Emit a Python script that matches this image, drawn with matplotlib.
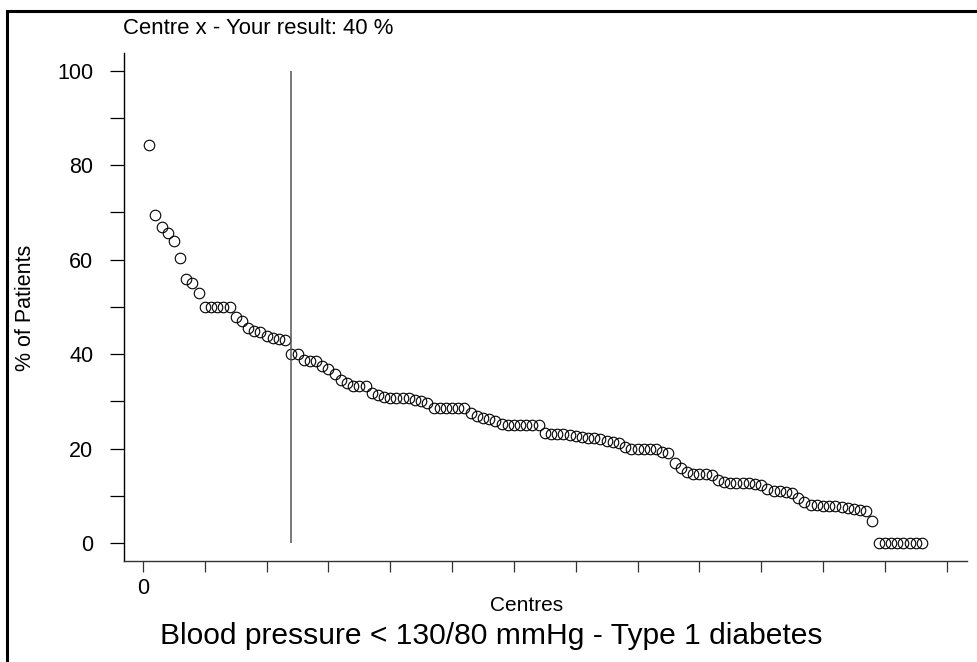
import numpy as np
import matplotlib.pyplot as plt
from matplotlib.patches import Rectangle

plt.rcParams['font.family'] = ['Liberation Sans', 'DejaVu Sans']

# percentage of patients per centre, sorted descending
pct = [
    84.3, 69.5, 67.0, 65.6, 64.0, 60.3, 56.0, 55.0, 53.0, 50.0,
    50.0, 50.0, 50.0, 50.0, 47.8, 47.1, 45.5, 44.8, 44.6, 43.8,
    43.4, 43.1, 43.0, 40.0, 40.0, 38.7, 38.5, 38.5, 37.5, 36.8,
    35.7, 34.5, 33.8, 33.3, 33.3, 33.3, 31.8, 31.3, 31.0, 30.8,
    30.8, 30.8, 30.6, 30.3, 30.0, 29.6, 28.6, 28.6, 28.6, 28.6,
    28.6, 28.6, 27.5, 26.9, 26.5, 26.3, 25.9, 25.3, 25.0, 25.0,
    25.0, 25.0, 25.0, 25.0, 23.3, 23.1, 23.0, 23.0, 22.9, 22.7,
    22.5, 22.2, 22.2, 22.0, 21.7, 21.4, 21.2, 20.4, 20.0, 20.0,
    20.0, 20.0, 20.0, 19.3, 19.0, 16.9, 15.9, 15.0, 14.6, 14.6,
    14.6, 14.4, 13.3, 13.0, 12.8, 12.8, 12.8, 12.8, 12.5, 12.3,
    11.5, 11.1, 11.1, 10.7, 10.5, 9.5, 8.7, 8.0, 8.0, 7.9,
    7.9, 7.8, 7.7, 7.5, 7.3, 7.0, 6.8, 4.7, 0.0, 0.0,
    0.0, 0.0, 0.0, 0.0, 0.0, 0.0,
]
centre_rank = np.arange(1, len(pct) + 1)
your_rank = 24
your_result = 40

title_top = f"Centre x - Your result: {your_result} %"
title_bottom = "Blood pressure < 130/80 mmHg - Type 1 diabetes"

fig = plt.figure(figsize=(9.78, 6.62), dpi=100)
ax = fig.add_axes([0.1268, 0.1526, 0.862, 0.7674])

ax.plot(centre_rank, pct, linestyle="none", marker="o", markersize=7.6,
        markerfacecolor="none", markeredgecolor="black", markeredgewidth=0.8)
ax.vlines(your_rank, 0, 100, color="#555555", lw=1.1)

ax.set_xlim(-3.07, 133.3)
ax.set_ylim(-3.8, 103.75)

ax.set_xticks(np.arange(0, 131, 10))
ax.set_xticklabels(["0"] + [""] * 13)
ax.set_yticks(np.arange(0, 101, 10))
ax.set_yticklabels([str(v) if v % 20 == 0 else "" for v in range(0, 101, 10)])

ax.spines["top"].set_visible(False)
ax.spines["right"].set_visible(False)
ax.spines["left"].set_linewidth(1.0)
ax.spines["bottom"].set_linewidth(1.0)
ax.spines["bottom"].set_color("#333333")
ax.tick_params(axis="y", direction="out", length=10, width=0.9, pad=12, labelsize=15.5)
ax.tick_params(axis="x", direction="out", length=8, width=0.9, pad=4, labelsize=15.5,
               color="#333333")

ax.set_ylabel("% of Patients", fontsize=15.5)
ax.set_xlabel("Centres", fontsize=15)
ax.xaxis.set_label_coords(0.478, -0.068)
ax.yaxis.set_label_coords(-0.104, 0.498)

fig.text(0.126, 0.957, title_top, fontsize=15.9, ha="left", va="center")
fig.text(0.164, 0.04, title_bottom, fontsize=21.6, ha="left", va="center")

# outer frame (only top and left edges fall inside the picture)
fig.patches.append(Rectangle((7 / 978, -0.1), 1.2, 1.1 - 11 / 662,
                             transform=fig.transFigure, fill=False,
                             edgecolor="black", lw=2.2, clip_on=False))

fig.savefig("out.png", dpi=100)
